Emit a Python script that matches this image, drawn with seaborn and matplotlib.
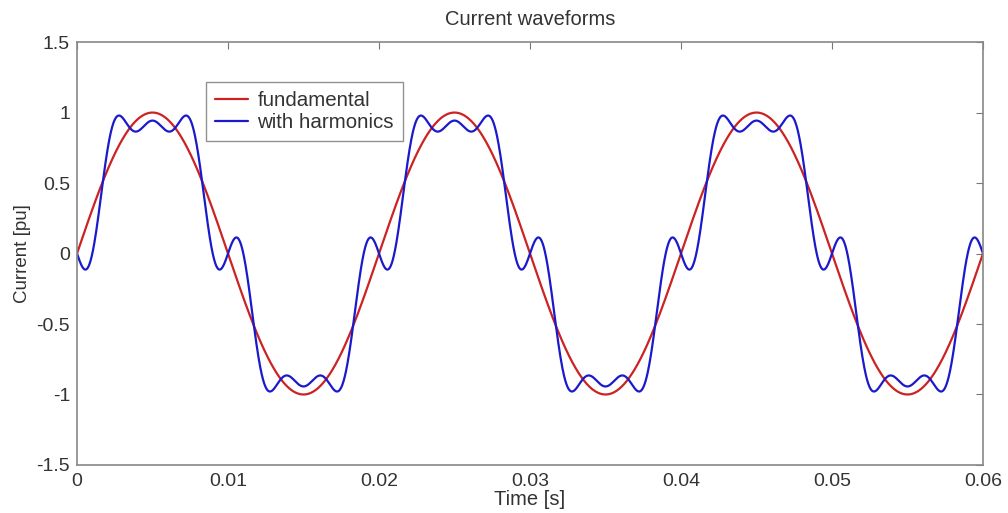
import numpy as np
import pandas as pd
import matplotlib
matplotlib.use("Agg")
import matplotlib.pyplot as plt
import seaborn as sns

# waveform data: 50 Hz fundamental plus 5th and 7th harmonic components
FREQ_HZ = 50.0
T_END = 0.06
harmonic_orders = [1, 5, 7]
harmonic_amps = [1.0, -0.2, -0.143]
series_names = ["fundamental", "with harmonics"]
x_ticks = [0, 0.01, 0.02, 0.03, 0.04, 0.05, 0.06]
x_ticklabels = ["0", "0.01", "0.02", "0.03", "0.04", "0.05", "0.06"]
y_ticks = [-1.5, -1, -0.5, 0, 0.5, 1, 1.5]
y_ticklabels = ["-1.5", "-1", "-0.5", "0", "0.5", "1", "1.5"]

t = np.linspace(0, T_END, 3001)
theta = 2 * np.pi * FREQ_HZ * t
fund = harmonic_amps[0] * np.sin(harmonic_orders[0] * theta)
distorted = sum(a * np.sin(h * theta) for h, a in zip(harmonic_orders, harmonic_amps))

df = pd.concat([
    pd.DataFrame({"t": t, "i": fund, "series": series_names[0]}),
    pd.DataFrame({"t": t, "i": distorted, "series": series_names[1]}),
])

sns.set_style("white")
plt.rcParams["font.family"] = ["Liberation Sans", "DejaVu Sans"]

fig = plt.figure(figsize=(10.08, 5.13), dpi=100)
ax = fig.add_axes([0.0764, 0.0936, 0.8988, 0.8244])

sns.lineplot(data=df, x="t", y="i", hue="series", hue_order=series_names,
             palette=["#cc2222", "#1a1acc"], ax=ax, linewidth=1.6,
             estimator=None, sort=False)

ax.set_xlim(0, T_END)
ax.set_ylim(-1.5, 1.5)
ax.set_xticks(x_ticks)
ax.set_xticklabels(x_ticklabels)
ax.set_yticks(y_ticks)
ax.set_yticklabels(y_ticklabels)
ax.tick_params(direction="in", length=5, color="#777777", top=True, right=True,
               labelsize=14, labelcolor="#333333")
ax.tick_params(axis="x", pad=6)
ax.tick_params(axis="y", pad=5)
for s in ax.spines.values():
    s.set_color("#888888")
    s.set_linewidth(1.2)

ax.set_title("Current waveforms", fontsize=14.5, color="#333333", pad=12)
ax.set_xlabel("Time [s]", fontsize=14.5, color="#333333", labelpad=0)
ax.set_ylabel("Current [pu]", fontsize=13.5, color="#333333", labelpad=4)

leg = ax.legend(loc="upper left", bbox_to_anchor=(0.1424, 0.905), borderaxespad=0,
                frameon=True, fancybox=False, fontsize=14.8, handlelength=1.6,
                handletextpad=0.45, borderpad=0.45, labelspacing=0.12)
leg.get_frame().set_edgecolor("#777777")
leg.get_frame().set_linewidth(1.0)
for txt in leg.get_texts():
    txt.set_color("#333333")

fig.savefig("out.png", dpi=100)
